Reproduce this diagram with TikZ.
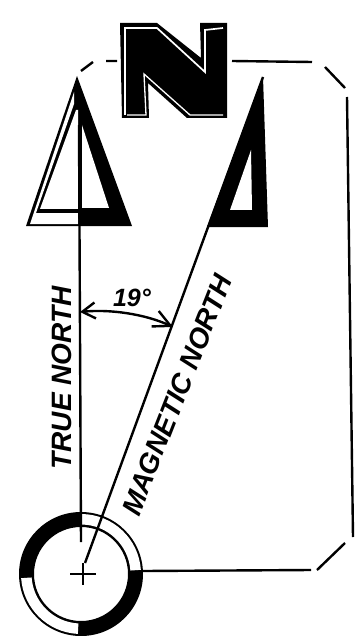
\documentclass[tikz,border=0pt]{standalone}
\usepackage{fontspec}
\setmainfont{Liberation Sans}
\usetikzlibrary{arrows.meta}
\tikzset{
  ink/.style={line width=2.4pt,black},
  lab/.style={font=\bfseries\itshape\fontsize{28}{28}\selectfont,inner sep=0pt},
  openarrow/.style={line width=2.4pt,{Straight Barb[length=13pt,width=16pt,line width=2.4pt]}-{Straight Barb[length=17pt,width=17pt,line width=2.4pt]}}
}
\begin{document}
\begin{tikzpicture}[x=1pt,y=-1pt]
\useasboundingbox (0,0) rectangle (354,636);
% N
\fill[black] (120,23)--(157,23)--(201,58)--(200,23)--(227,23)--(227,118)--(187,118)--(148,83)--(149,118)--(122,118)--cycle;
\draw[white,line width=1.7pt] (125,115)--(125,28)--(157,28)--(205,72)--(205,30)--(223,28);
\draw[white,line width=1.3pt] (127,115)--(146,115)--(144,74)--(190,115)--(223,115);
% left triangle
\fill[black] (77,76)--(26,226)--(132,226)--cycle;
\fill[white] (74,92)--(30,224)--(78,224)--(78,213)--(36,213)--(74,104)--cycle;
\fill[white] (76,110)--(40,209)--(78,209)--(78,110)--cycle;
\fill[white] (82,125)--(109,208)--(82,208)--cycle;
% right triangle
\fill[black] (263,77)--(207,227)--(268,227)--cycle;
\fill[white] (251,150)--(230,210)--(252,210)--cycle;
% ring
\coordinate (c) at (81,574);
\fill[black,even odd rule] (c) circle[radius=62] (c) circle[radius=47];
\fill[white] ([shift={(-4:60)}]c) arc[start angle=-4,end angle=-89,radius=60] -- ([shift={(-89:49.5)}]c) arc[start angle=-89,end angle=-4,radius=49.5] -- cycle;
\fill[white] ([shift={(-184:60)}]c) arc[start angle=-184,end angle=-267,radius=60] -- ([shift={(-267:49.5)}]c) arc[start angle=-267,end angle=-184,radius=49.5] -- cycle;
% centre cross
\coordinate (cl) at (70,574); \coordinate (cr) at (96,574);
\coordinate (ct) at (83,563); \coordinate (cb) at (83,585);
\draw[ink] (cl)--(cr) (ct)--(cb);
% needles
\coordinate (tt) at (79,125);
\coordinate (tb) at (81,542);
\coordinate (mt) at (263,77);
\coordinate (mb) at (85,563);
\draw[ink] (tt)--(tb);
\draw[ink] (mt)--(mb);
% frame
\coordinate (a1) at (81,71); \coordinate (a2) at (93,62);
\coordinate (a3) at (106,61); \coordinate (a4) at (117,61);
\coordinate (a5) at (232,61); \coordinate (a6) at (312,62);
\coordinate (a7) at (325,67); \coordinate (a8) at (345,88);
\coordinate (a9) at (347,97); \coordinate (a10) at (353,537);
\coordinate (a11) at (345,543); \coordinate (a12) at (317,570);
\coordinate (a13) at (311,570); \coordinate (a14) at (143,571);
\draw[ink] (a1)--(a2) (a3)--(a4) (a5)--(a6) (a7)--(a8) (a9)--(a10) (a11)--(a12) (a13)--(a14);
% angle
\coordinate (b1) at (80,312);
\coordinate (b2) at (173,327);
\draw[openarrow] (b1) .. controls (110,309) and (145,314) .. (b2);
% labels
\node[lab,font=\bfseries\itshape\fontsize{25}{25}\selectfont] (deg) at (132,298) {19°};
\node[lab,rotate=90] (tn) at (62,378) {TRUE NORTH};
\node[lab,rotate=68.5] (mn) at (177,395) {MAGNETIC NORTH};
\end{tikzpicture}
\end{document}
